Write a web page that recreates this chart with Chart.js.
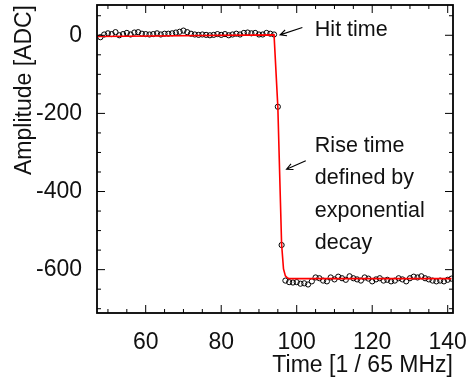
<!DOCTYPE html>
<html>
<head>
<meta charset="utf-8">
<script src="https://cdn.jsdelivr.net/npm/chart.js@4.4.1/dist/chart.umd.min.js"></script>
<style>
  html, body { margin: 0; padding: 0; background: #fff; }
  #grafico { display: block; }
</style>
</head>
<body>
<canvas id="grafico" width="468" height="379"></canvas>
<script>
// amostras do traço (tempo em unidades de 1/65 MHz)
const tempos = [
  48, 49, 50, 51, 52, 53, 54, 55, 56, 57, 58, 59, 60, 61, 62, 63, 64, 65, 66, 67,
  68, 69, 70, 71, 72, 73, 74, 75, 76, 77, 78, 79, 80, 81, 82, 83, 84, 85, 86, 87,
  88, 89, 90, 91, 92, 93, 94, 95, 96, 97, 98, 99, 100, 101, 102, 103, 104, 105, 106, 107,
  108, 109, 110, 111, 112, 113, 114, 115, 116, 117, 118, 119, 120, 121, 122, 123, 124, 125, 126, 127,
  128, 129, 130, 131, 132, 133, 134, 135, 136, 137, 138, 139, 140, 141
];
const amplitudes = [
  -5, 2, 5, 3, 8, 0, 3, 6, 2, 7, 8, 4, 3, 2, 3, 5, 2, 4, 4, 5,
  7, 9, 12, 8, 4, 2, 1, 2, 1, 0, 1, 3, 1, 3, 0, 2, 4, 2, 6, 7,
  5, 6, 2, 2, 6, 4, 2, -183, -537, -628, -632, -633, -632, -636, -635, -638, -630, -620, -622, -628,
  -630, -620, -625, -618, -622, -626, -617, -622, -625, -628, -620, -623, -630, -625, -622, -628, -626, -630, -628, -622,
  -625, -630, -622, -618, -620, -617, -622, -625, -628, -630, -628, -630, -626, -623
];

// curva de ajuste (vermelha)
const ajusteX = [47, 94, 95, 96, 96.5, 97, 97.5, 98, 141];
const ajusteY = [-3, 1, -183, -535, -598, -616, -621, -623, -623];

const xTicks = [60, 80, 100, 120, 140];
const yTicks = [0, -200, -400, -600];

const fonte = "'Liberation Sans', Arial, Helvetica, sans-serif";

function seta(ctx, x0, y0, x1, y1) {
  const ang = Math.atan2(y1 - y0, x1 - x0);
  const tam = 7;
  ctx.beginPath();
  ctx.moveTo(x0, y0);
  ctx.lineTo(x1, y1);
  ctx.moveTo(x1 - tam * Math.cos(ang - 0.45), y1 - tam * Math.sin(ang - 0.45));
  ctx.lineTo(x1, y1);
  ctx.lineTo(x1 - tam * Math.cos(ang + 0.45), y1 - tam * Math.sin(ang + 0.45));
  ctx.stroke();
}

// sem folga extra dos rótulos: a área do gráfico fica onde a gente quer
function semFolga(s) {
  s.paddingTop = 0;
  s.paddingBottom = 0;
  s.paddingLeft = 0;
  s.paddingRight = 0;
}

const molduraPlugin = {
  id: "moldura",
  afterDraw(chart) {
    const { ctx, chartArea: a, scales: { x, y } } = chart;
    ctx.save();
    ctx.strokeStyle = "#000";
    ctx.lineWidth = 1;

    // ticks para dentro, nos quatro lados
    ctx.beginPath();
    for (let v = 50; v <= 141; v += 5) {
      const px = x.getPixelForValue(v);
      const len = v % 20 === 0 ? 8 : 4;
      ctx.moveTo(px, a.bottom); ctx.lineTo(px, a.bottom - len);
      ctx.moveTo(px, a.top); ctx.lineTo(px, a.top + len);
    }
    for (let v = -700; v <= 77; v += 50) {
      const py = y.getPixelForValue(v);
      const len = v % 200 === 0 ? 8 : 4;
      ctx.moveTo(a.left, py); ctx.lineTo(a.left + len, py);
      ctx.moveTo(a.right, py); ctx.lineTo(a.right - len, py);
    }
    ctx.stroke();

    ctx.lineWidth = 1.8;
    ctx.strokeRect(a.left, a.top, a.right - a.left, a.bottom - a.top);

    // anotações
    ctx.lineWidth = 1.1;
    seta(ctx, x.getPixelForValue(101.5), y.getPixelForValue(20), x.getPixelForValue(95.6), y.getPixelForValue(1));
    seta(ctx, x.getPixelForValue(102.4), y.getPixelForValue(-321), x.getPixelForValue(97.3), y.getPixelForValue(-343));

    ctx.fillStyle = "#111";
    ctx.font = "21.5px " + fonte;
    ctx.textAlign = "left";
    ctx.textBaseline = "middle";
    const tx = x.getPixelForValue(104.8);
    ctx.fillText("Hit time", tx, y.getPixelForValue(14));
    ["Rise time", "defined by", "exponential", "decay"].forEach((linha, i) => {
      ctx.fillText(linha, tx, y.getPixelForValue(-284) + i * 32.3);
    });
    ctx.restore();
  }
};

const ctx = document.getElementById("grafico").getContext("2d");
new Chart(ctx, {
  type: "scatter",
  data: {
    datasets: [
      {
        label: "Ajuste",
        data: ajusteX.map((t, i) => ({ x: t, y: ajusteY[i] })),
        showLine: true,
        borderColor: "#ff0000",
        borderWidth: 1.6,
        pointRadius: 0,
        tension: 0,
        order: 0
      },
      {
        label: "Dados",
        data: tempos.map((t, i) => ({ x: t, y: amplitudes[i] })),
        showLine: false,
        pointRadius: 2.6,
        pointBorderWidth: 1,
        pointBorderColor: "#000",
        pointBackgroundColor: "rgba(255,255,255,0)",
        order: 1
      }
    ]
  },
  options: {
    responsive: false,
    animation: false,
    layout: { padding: { top: 2, right: 15, left: 0, bottom: 0 } },
    plugins: {
      legend: { display: false },
      tooltip: { enabled: false }
    },
    scales: {
      x: {
        type: "linear",
        min: 47.1,
        max: 141.4,
        grid: { display: false },
        border: { display: false },
        afterBuildTicks: s => { s.ticks = xTicks.map(v => ({ value: v })); },
        afterFit: s => { s.height = 66; semFolga(s); },
        ticks: {
          color: "#111",
          padding: 8,
          maxRotation: 0,
          font: { family: fonte, size: 23 }
        },
        title: {
          display: true,
          text: "Time [1 / 65 MHz]",
          align: "end",
          color: "#111",
          padding: { top: 0, bottom: 2 },
          font: { family: fonte, size: 23, lineHeight: 1 }
        }
      },
      y: {
        type: "linear",
        min: -711,
        max: 77.5,
        grid: { display: false },
        border: { display: false },
        afterBuildTicks: s => { s.ticks = yTicks.map(v => ({ value: v })); },
        afterFit: s => { s.width = 97; semFolga(s); },
        ticks: {
          color: "#111",
          padding: 7,
          font: { family: fonte, size: 23 }
        },
        title: {
          display: true,
          text: "Amplitude [ADC]",
          align: "end",
          color: "#111",
          padding: { top: 13, bottom: 0 },
          font: { family: fonte, size: 23, lineHeight: 1 }
        }
      }
    }
  },
  plugins: [molduraPlugin]
});
</script>
</body>
</html>
